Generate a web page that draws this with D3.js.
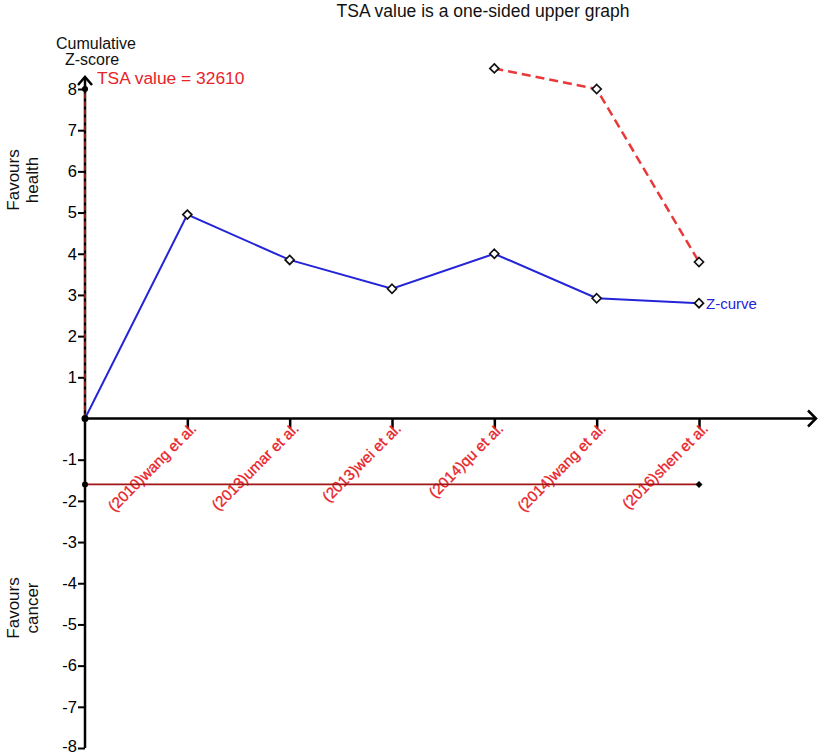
<!DOCTYPE html>
<html><head><meta charset="utf-8">
<script src="https://cdn.jsdelivr.net/npm/d3@7"></script>
<style>body{margin:0;background:#fff}svg{display:block;font-family:"Liberation Sans",Arial,sans-serif}</style>
</head><body>
<svg id="c" width="819" height="756"></svg>
<script>
const studies = ["(2010)wang et al.","(2013)umar et al.","(2013)wei et al.","(2014)qu et al.","(2014)wang et al.","(2016)shen et al."];
const zCurve = [0, 4.95, 3.85, 3.15, 4.0, 2.92, 2.8];
const upperIdx = [4, 5, 6];
const upperBoundary = [8.5, 8.0, 3.8];
const lowerBoundary = -1.6;
const yTicks = [-8,-7,-6,-5,-4,-3,-2,-1,1,2,3,4,5,6,7,8];
const tsaLine = [0, 8];

const svg = d3.select("#c");
const x = d3.scaleLinear().domain([0, 6]).range([85, 699]);
const y = d3.scaleLinear().domain([-8, 8]).range([748, 89]);
const diamond = "M0,-4.5 L4.5,0 L0,4.5 L-4.5,0 Z";

// title
svg.append("text").attr("x", 483).attr("y", 17).attr("text-anchor","middle")
  .attr("font-size", 17.5).attr("fill","#111").text("TSA value is a one-sided upper graph");

// y axis
const yAxis = d3.axisLeft(y).tickValues(yTicks).tickSize(7).tickFormat(d=>String(d));
const gy = svg.append("g").attr("transform","translate(85,0)").call(yAxis);
gy.select(".domain").remove();
gy.selectAll(".tick line").attr("stroke","#000").attr("stroke-width",2);
gy.selectAll(".tick text").attr("font-size",16.5).attr("fill","#000").attr("font-family","Liberation Sans, Arial, sans-serif")
  .attr("x",-8).attr("dy", d => d === -8 ? "0.2em" : "0.32em");
svg.append("line").attr("x1",85).attr("x2",85).attr("y1",y(-8)).attr("y2",77).attr("stroke","#000").attr("stroke-width",2.5);
svg.append("path").attr("d","M78,85 L85,77 L92,85").attr("fill","none").attr("stroke","#000").attr("stroke-width",2.5);

// x axis
svg.append("line").attr("x1",85).attr("x2",816).attr("y1",y(0)).attr("y2",y(0)).attr("stroke","#000").attr("stroke-width",2.5);
svg.append("path").attr("d",`M808,${y(0)-8} L816,${y(0)} L808,${y(0)+8}`).attr("fill","none").attr("stroke","#000").attr("stroke-width",2.5);
const xAxis = d3.axisBottom(x).tickValues(d3.range(1,7)).tickSize(10).tickFormat("");
const gx = svg.append("g").attr("transform",`translate(0,${y(0)})`).call(xAxis);
gx.select(".domain").remove();
gx.selectAll(".tick line").attr("stroke","#000").attr("stroke-width",2.5);

// study labels
svg.append("g").selectAll("text").data(studies).join("text")
  .attr("transform",(d,i)=>`translate(${x(i+1)+10},${y(0)+11}) rotate(-45)`)
  .attr("text-anchor","end").attr("font-size",15.2).attr("fill","#e8242a")
  .attr("stroke","#e8242a").attr("stroke-width",0.3).text(d=>d);

// TSA vertical line on axis
svg.append("line").attr("x1",85).attr("x2",85).attr("y1",y(tsaLine[0])).attr("y2",y(tsaLine[1]))
  .attr("stroke","#b52a2a").attr("stroke-width",1.5).attr("stroke-dasharray","5,3");
svg.append("circle").attr("cx",85).attr("cy",y(8)).attr("r",3).attr("fill","#000");

// lower boundary
svg.append("line").attr("x1",x(0)).attr("x2",x(6)).attr("y1",y(lowerBoundary)).attr("y2",y(lowerBoundary))
  .attr("stroke","#a01515").attr("stroke-width",1.8);
svg.append("circle").attr("cx",x(0)).attr("cy",y(lowerBoundary)).attr("r",3).attr("fill","#000");
svg.append("path").attr("d","M0,-3.5 L3.5,0 L0,3.5 L-3.5,0 Z").attr("transform",`translate(${x(6)},${y(lowerBoundary)})`).attr("fill","#000");

// upper boundary
const upData = upperIdx.map((i,k)=>({i, v: upperBoundary[k]}));
svg.append("path").datum(upData)
  .attr("d", d3.line().x(d=>x(d.i)).y(d=>y(d.v)))
  .attr("fill","none").attr("stroke","#e8383a").attr("stroke-width",2.5).attr("stroke-dasharray","9,5");
svg.append("g").selectAll("path").data(upData).join("path")
  .attr("d", diamond)
  .attr("transform", d=>`translate(${x(d.i)},${y(d.v)})`)
  .attr("fill","#fff").attr("stroke","#111").attr("stroke-width",1.7);

// Z-curve
const zData = zCurve.map((v,i)=>({i,v}));
svg.append("path").datum(zData)
  .attr("d", d3.line().x(d=>x(d.i)).y(d=>y(d.v)))
  .attr("fill","none").attr("stroke","#2424d8").attr("stroke-width",2);
svg.append("g").selectAll("path").data(zData.slice(1)).join("path")
  .attr("d", diamond)
  .attr("transform", d=>`translate(${x(d.i)},${y(d.v)})`)
  .attr("fill","#fff").attr("stroke","#111").attr("stroke-width",1.7);
svg.append("circle").attr("cx",x(0)).attr("cy",y(0)).attr("r",3.5).attr("fill","#000");
svg.append("text").attr("x",x(6)+7).attr("y",y(zCurve[6])+6).attr("font-size",15).attr("fill","#2424d8").text("Z-curve");

// labels
svg.append("text").attr("x",96).attr("y",49).attr("text-anchor","middle").attr("font-size",16).attr("fill","#111").text("Cumulative");
svg.append("text").attr("x",92).attr("y",65).attr("text-anchor","middle").attr("font-size",16).attr("fill","#111").text("Z-score");
svg.append("text").attr("x",97).attr("y",84).attr("font-size",17.4).attr("fill","#e8242a").text("TSA value = 32610");

function vlabel(cx, cy, lines){
  const g = svg.append("g").attr("transform",`translate(${cx},${cy}) rotate(-90)`);
  lines.forEach((t,k)=>g.append("text").attr("x",0).attr("y",k*19).attr("text-anchor","middle").attr("font-size",17).attr("fill","#111").text(t));
}
vlabel(19, 180, ["Favours","health"]);
vlabel(19, 608, ["Favours","cancer"]);
</script>
</body></html>
